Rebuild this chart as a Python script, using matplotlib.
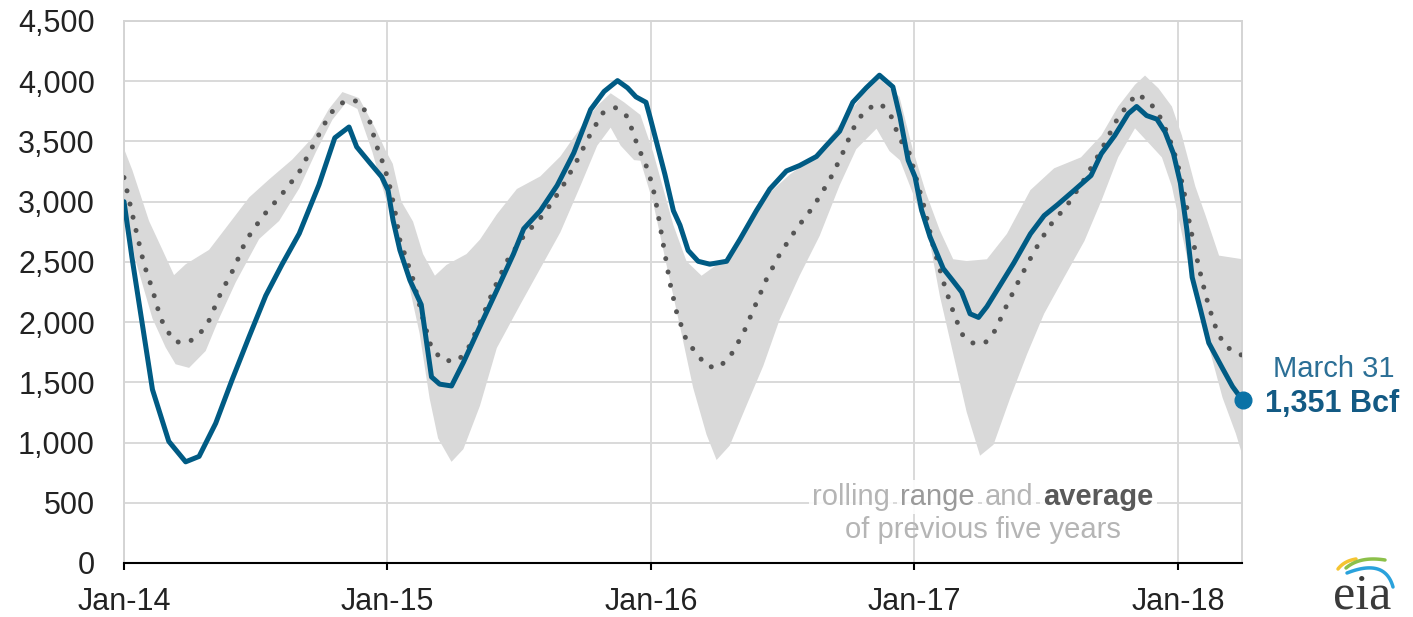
import numpy as np
import matplotlib.pyplot as plt
from matplotlib.ticker import FuncFormatter

plt.rcParams['font.family'] = ['Liberation Sans', 'DejaVu Sans']

# x values are years since Jan 2014, y values are Bcf
stor_t = [0.000, 0.030, 0.108, 0.170, 0.234, 0.285, 0.348, 0.410, 0.475, 0.538,
          0.600, 0.665, 0.740, 0.800, 0.854, 0.883, 0.934, 0.978, 1.002, 1.021,
          1.047, 1.085, 1.128, 1.167, 1.198, 1.243, 1.288, 1.351, 1.415, 1.478,
          1.517, 1.580, 1.644, 1.707, 1.771, 1.822, 1.873, 1.911, 1.943, 1.981,
          1.996, 2.021, 2.053, 2.085, 2.110, 2.141, 2.179, 2.223, 2.287, 2.337,
          2.400, 2.451, 2.514, 2.564, 2.628, 2.665, 2.716, 2.766, 2.817, 2.867,
          2.918, 2.945, 2.976, 3.002, 3.027, 3.059, 3.109, 3.147, 3.179, 3.211,
          3.243, 3.275, 3.326, 3.377, 3.440, 3.492, 3.543, 3.607, 3.670, 3.709,
          3.760, 3.811, 3.843, 3.881, 3.920, 3.951, 3.983, 4.009, 4.034, 4.054,
          4.086, 4.117, 4.169, 4.207, 4.245]
stor_v = [3000, 2540, 1440, 1010, 840, 885, 1160, 1520, 1880, 2220,
          2480, 2735, 3140, 3530, 3620, 3455, 3320, 3206, 3095, 2846,
          2598, 2348, 2145, 1545, 1485, 1470, 1665, 1965, 2265, 2565,
          2775, 2925, 3135, 3405, 3765, 3915, 4005, 3945, 3870, 3825,
          3705, 3495, 3225, 2925, 2805, 2595, 2505, 2481, 2505, 2685,
          2925, 3105, 3255, 3300, 3375, 3465, 3585, 3825, 3945, 4050,
          3953, 3704, 3344, 3206, 2930, 2708, 2445, 2340, 2250, 2069,
          2039, 2129, 2310, 2491, 2733, 2884, 2975, 3096, 3217, 3398,
          3549, 3730, 3790, 3715, 3685, 3579, 3398, 3156, 2763, 2371,
          2099, 1827, 1616, 1465, 1351]

avg_t = [0.000, 0.025, 0.050, 0.076, 0.108, 0.139, 0.170, 0.196, 0.247, 0.290,
         0.323, 0.367, 0.418, 0.462, 0.525, 0.595, 0.665, 0.715, 0.766, 0.797,
         0.839, 0.889, 0.921, 0.940, 0.953, 0.972, 0.990, 1.009, 1.028, 1.047,
         1.066, 1.097, 1.135, 1.167, 1.211, 1.268, 1.307, 1.351, 1.402, 1.453,
         1.517, 1.593, 1.663, 1.720, 1.765, 1.816, 1.866, 1.911, 1.949, 1.990,
         2.015, 2.034, 2.053, 2.072, 2.097, 2.135, 2.173, 2.211, 2.255, 2.299,
         2.350, 2.394, 2.438, 2.489, 2.552, 2.615, 2.678, 2.722, 2.766, 2.804,
         2.842, 2.874, 2.912, 2.943, 2.981, 3.038, 3.070, 3.109, 3.140, 3.179,
         3.217, 3.268, 3.307, 3.351, 3.402, 3.453, 3.511, 3.581, 3.645, 3.709,
         3.773, 3.843, 3.888, 3.926, 3.964, 3.996, 4.022, 4.041, 4.066, 4.092,
         4.117, 4.149, 4.181, 4.245]
avg_v = [3200, 2960, 2720, 2480, 2270, 2030, 1910, 1835, 1835, 1910,
         2015, 2240, 2450, 2675, 2875, 3050, 3245, 3455, 3665, 3770,
         3836, 3836, 3734, 3621, 3496, 3386, 3275, 3123, 2929, 2680,
         2560, 2355, 2025, 1785, 1680, 1680, 1785, 1995, 2265, 2505,
         2715, 2895, 3120, 3345, 3540, 3735, 3780, 3705, 3465, 3255,
         3045, 2805, 2565, 2325, 2085, 1845, 1740, 1635, 1620, 1710,
         1905, 2130, 2355, 2565, 2775, 2955, 3180, 3375, 3600, 3735,
         3795, 3810, 3705, 3525, 3400, 2945, 2643, 2340, 2129, 1903,
         1827, 1827, 1933, 2144, 2371, 2582, 2794, 2975, 3186, 3428,
         3700, 3896, 3836, 3730, 3549, 3338, 3096, 2854, 2582, 2340,
         2129, 1918, 1797, 1722]

hi_t = [0.000, 0.032, 0.095, 0.146, 0.190, 0.234, 0.323, 0.386, 0.475, 0.551,
        0.639, 0.715, 0.778, 0.829, 0.892, 0.956, 0.994, 1.020, 1.053, 1.097,
        1.135, 1.180, 1.224, 1.300, 1.351, 1.415, 1.491, 1.580, 1.656, 1.733,
        1.796, 1.847, 1.898, 1.960, 2.009, 2.047, 2.085, 2.135, 2.192, 2.249,
        2.312, 2.375, 2.451, 2.527, 2.602, 2.665, 2.741, 2.804, 2.867, 2.943,
        2.994, 3.045, 3.096, 3.147, 3.198, 3.275, 3.351, 3.440, 3.530, 3.632,
        3.709, 3.773, 3.837, 3.875, 3.926, 3.977, 4.015, 4.066, 4.105, 4.156,
        4.245]
hi_v = [3440, 3260, 2840, 2600, 2390, 2480, 2600, 2780, 3035, 3185,
        3350, 3530, 3770, 3910, 3860, 3600, 3420, 3315, 3000, 2835,
        2565, 2385, 2475, 2565, 2685, 2895, 3105, 3210, 3375, 3615,
        3795, 3900, 3825, 3720, 3405, 3105, 2805, 2505, 2385, 2475,
        2565, 2805, 3075, 3225, 3345, 3495, 3705, 3885, 4020, 3870,
        3430, 3065, 2763, 2522, 2507, 2522, 2733, 3096, 3277, 3368,
        3549, 3790, 3971, 4047, 3941, 3790, 3549, 3126, 2884, 2552,
        2522]

lo_t = [0.000, 0.044, 0.108, 0.158, 0.196, 0.247, 0.310, 0.361, 0.424, 0.513,
        0.589, 0.665, 0.728, 0.791, 0.842, 0.886, 0.943, 0.970, 1.020, 1.071,
        1.122, 1.160, 1.192, 1.243, 1.288, 1.351, 1.415, 1.504, 1.580, 1.656,
        1.733, 1.796, 1.847, 1.885, 1.936, 1.960, 2.009, 2.059, 2.110, 2.160,
        2.211, 2.249, 2.299, 2.362, 2.426, 2.489, 2.564, 2.640, 2.716, 2.779,
        2.856, 2.905, 2.945, 3.008, 3.059, 3.096, 3.147, 3.198, 3.249, 3.300,
        3.364, 3.428, 3.492, 3.568, 3.645, 3.709, 3.773, 3.837, 3.888, 3.939,
        3.977, 4.015, 4.066, 4.117, 4.169, 4.220, 4.245]
lo_v = [2990, 2510, 2030, 1790, 1650, 1620, 1760, 2030, 2330, 2690,
        2840, 3110, 3410, 3680, 3820, 3770, 3410, 3200, 2835, 2415,
        1905, 1365, 1035, 840, 945, 1305, 1785, 2145, 2445, 2745,
        3135, 3465, 3615, 3465, 3345, 3340, 2985, 2475, 1965, 1455,
        1065, 855, 975, 1305, 1635, 2025, 2385, 2715, 3135, 3435,
        3606, 3420, 3344, 2990, 2656, 2220, 1737, 1254, 891, 982,
        1374, 1737, 2069, 2371, 2673, 3005, 3368, 3609, 3489, 3368,
        3126, 2733, 2220, 1797, 1374, 1072, 891]

year_ticks = [0, 1, 2, 3, 4]
year_labels = ['Jan-14', 'Jan-15', 'Jan-16', 'Jan-17', 'Jan-18']
end_label = 'March 31'
end_value_label = '1,351 Bcf'

fig = plt.figure(figsize=(14.13, 6.17), dpi=100)
ax = fig.add_axes([124 / 1413, 54 / 617, 1118 / 1413, 542 / 617])

# rolling range band
band_x = np.r_[hi_t, lo_t[::-1]]
band_y = np.r_[hi_v, lo_v[::-1]]
ax.fill(band_x, band_y, color='#d9d9d9', lw=0, zorder=2)

# five-year average
ax.plot(avg_t, avg_v, color='#555555', lw=3.6, linestyle=(0, (0.01, 2.7)),
        dash_capstyle='round', zorder=3)

# storage
ax.plot(stor_t, stor_v, color='#005b84', lw=3.6, solid_joinstyle='round',
        solid_capstyle='round', zorder=4)
ax.plot([stor_t[-1]], [stor_v[-1]], 'o', ms=12, color='#0a72a6', clip_on=False, zorder=5)

ax.annotate(end_label, xy=(stor_t[-1], stor_v[-1]), xytext=(30, 31),
            textcoords='offset pixels', ha='left', va='center', fontsize=21,
            color='#2b6f96', annotation_clip=False)
ax.annotate(end_value_label, xy=(stor_t[-1], stor_v[-1]), xytext=(22, -4),
            textcoords='offset pixels', ha='left', va='center', fontsize=22,
            fontweight='bold', color='#135a84', annotation_clip=False)

ax.set_xlim(0, 4.243)
ax.set_ylim(0, 4500)
ax.set_xticks(year_ticks)
ax.set_xticklabels(year_labels)
ax.set_yticks(np.arange(0, 4501, 500))
ax.yaxis.set_major_formatter(FuncFormatter(lambda v, p: f'{v:,.0f}'))

ax.grid(True, color='#d9d9d9', lw=1.4, zorder=0)
ax.set_axisbelow(True)
for s in ['top', 'left', 'right']:
    ax.spines[s].set_color('#d4d4d4')
    ax.spines[s].set_linewidth(1.4)
ax.spines['bottom'].set_color('black')
ax.spines['bottom'].set_linewidth(1.5)
ax.spines['bottom'].set_zorder(6)

ax.tick_params(axis='x', direction='out', length=5, width=1.5, color='black',
               labelsize=22, labelcolor='#222222', pad=12)
ax.tick_params(axis='y', length=0, labelsize=22, labelcolor='#222222', pad=21)

# note text
light = '#b5b5b5'
wbox = dict(fc='white', ec='none', pad=2, alpha=0.9)
t1 = ax.text(2.612, 548, 'rolling', fontsize=21, color=light, ha='left',
             va='center', bbox=wbox, zorder=6)
t2 = ax.annotate('range', xy=(1, 0.5), xycoords=t1, xytext=(10, 0),
                 textcoords='offset pixels', fontsize=21, color='#9a9a9a',
                 va='center', bbox=wbox, zorder=6)
t3 = ax.annotate('and', xy=(1, 0.5), xycoords=t2, xytext=(10, 0),
                 textcoords='offset pixels', fontsize=21, color=light,
                 va='center', bbox=wbox, zorder=6)
t4 = ax.annotate('average', xy=(1, 0.5), xycoords=t3, xytext=(10, 0),
                 textcoords='offset pixels', fontsize=21, color='#595959',
                 fontweight='bold', va='center', bbox=wbox, zorder=6)
ax.text(3.258, 274, 'of previous five years', fontsize=21, color=light,
        ha='center', va='center', zorder=6)

# eia logo
lax = fig.add_axes([1300 / 1413, 0, 113 / 1413, 77 / 617])
lax.set_xlim(0, 113)
lax.set_ylim(77, 0)
lax.axis('off')


def curve(p0, p1, p2, n=30):
    s = np.linspace(0, 1, n)[:, None]
    p0, p1, p2 = np.array(p0), np.array(p1), np.array(p2)
    return (1 - s) ** 2 * p0 + 2 * (1 - s) * s * p1 + s ** 2 * p2


for pts, col in [(((38, 29), (44, 21), (56, 19)), '#f5c431'),
                 (((46, 28), (60, 16), (85, 20)), '#8cc04a'),
                 (((47, 33), (85, 18), (93, 47)), '#2aa2dc')]:
    c = curve(*pts)
    lax.plot(c[:, 0], c[:, 1], color=col, lw=2.5, solid_capstyle='round')
lax.text(62, 56, 'eia', fontsize=36, color='#3a3a3a', ha='center', va='center',
         family=['Liberation Serif', 'DejaVu Serif'])

fig.savefig('out.png', dpi=100)
